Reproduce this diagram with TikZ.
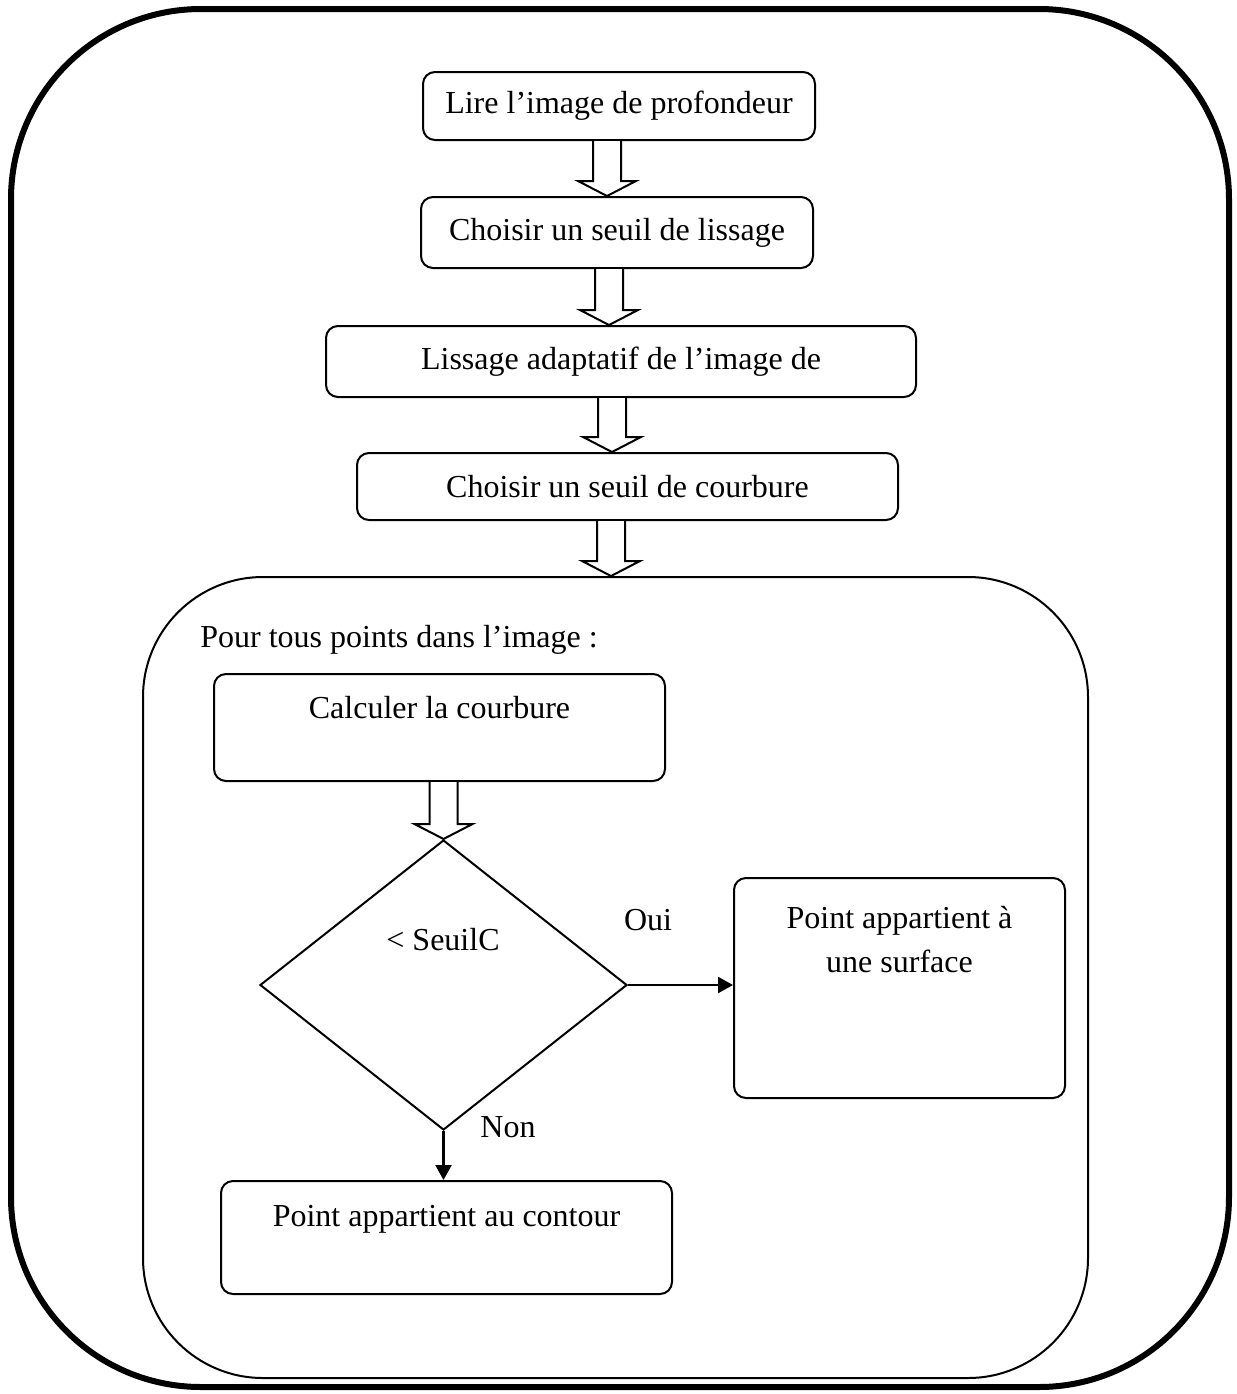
\documentclass[tikz,border=0pt]{standalone}
\usepackage{fontspec}
\setmainfont{Liberation Serif}
\usetikzlibrary{shapes.geometric,arrows.meta,calc}
\tikzset{
  x=0.5pt, y=-0.5pt,
  txt/.style={font=\fontsize{16pt}{22pt}\selectfont, inner sep=0pt},
  box/.style={txt, draw, line width=1pt, rounded corners=6pt},
  harrowline/.style={draw, line width=1pt, fill=white, line join=miter},
  conn/.style={line width=1.2pt, -{Triangle[length=7.5pt,width=8pt]}},
}
\newcommand{\harrow}[3]{%
  \path[harrowline] let \p1=(#1.south), \p2=(#2.north) in
    (#3*0.5pt-7pt,\y1) -- (#3*0.5pt-7pt,\y2+7.5pt) -- (#3*0.5pt-14.5pt,\y2+7.5pt)
    -- (#3*0.5pt,\y2) -- (#3*0.5pt+14.5pt,\y2+7.5pt) -- (#3*0.5pt+7pt,\y2+7.5pt)
    -- (#3*0.5pt+7pt,\y1);}
\begin{document}
\begin{tikzpicture}
\useasboundingbox (0,0) rectangle (1237,1394);
\draw[line width=3pt, rounded corners=95pt] (11,9) rectangle (1229,1387);

\node[box, minimum width=196pt, minimum height=34pt] (n1) at (619,106) {Lire l’image de profondeur};
\node[box, minimum width=196pt, minimum height=35.5pt] (n2) at (617,232.5) {Choisir un seuil de lissage};
\node[box, minimum width=295pt, minimum height=35.5pt] (n3) at (621,361.5) {Lissage adaptatif de l’image de};
\node[box, minimum width=270.5pt, minimum height=33.5pt] (n4) at (627.5,486.5) {Choisir un seuil de courbure};
\node[draw, line width=1pt, rounded corners=60pt, minimum width=472.5pt, minimum height=400.5pt, inner sep=0pt] (lp) at (615.5,977.5) {};

\node[txt, anchor=west] (ttl) at (200,640) {Pour tous points dans l’image :};
\node[box, anchor=north, minimum width=225.5pt, text height=22pt, text depth=31.5pt] (n7) at (439.5,673) {Calculer la courbure};
\node[draw, line width=1pt, diamond, minimum width=183.5pt, minimum height=145pt, inner sep=0pt] (d) at (443.5,985) {};
\node[txt] (dl) at (443,940) {< SeuilC};
\node[box, minimum width=165.5pt, minimum height=110pt] (n9) at (899.5,988) {};
\node[txt, align=center] (n9t) at (899.5,940) {Point appartient à\\une surface};
\node[box, anchor=north, minimum width=225.5pt, text height=22.5pt, text depth=34pt] (n10) at (446.5,1180) {Point appartient au contour};
\node[txt] (oui) at (648,920) {Oui};
\node[txt] (non) at (508,1127) {Non};

\harrow{n1}{n2}{607}
\harrow{n2}{n3}{609}
\harrow{n3}{n4}{612}
\harrow{n4}{lp}{611}
\harrow{n7}{d}{443.5}

\draw[conn] (d.east) -- (d.east -| n9.west);
\draw[conn] (d.south) -- (d.south |- n10.north);
\end{tikzpicture}
\end{document}
